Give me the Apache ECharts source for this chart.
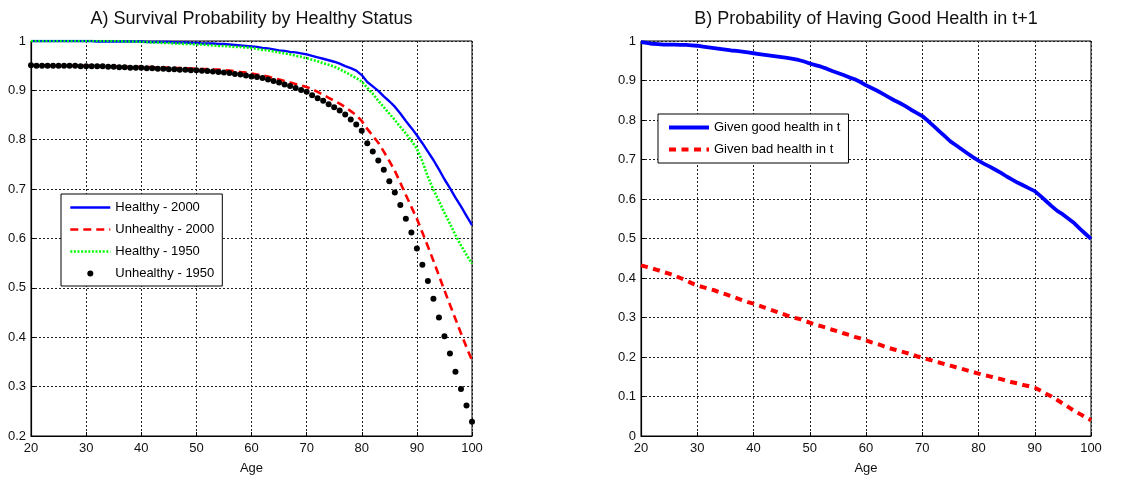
<!DOCTYPE html>
<html>
<head>
<meta charset="utf-8">
<script src="https://cdn.jsdelivr.net/npm/echarts@6/dist/echarts.min.js"></script>
<style>
  html, body { margin: 0; padding: 0; background: #fff; }
  #chart { width: 1138px; height: 480px; }
</style>
</head>
<body>
<div id="chart"></div>
<script>
// Ages 20..100, one value per year
const ages = [];
for (let a = 20; a <= 100; a++) ages.push(a);

// Panel A: survival probability by health status
const healthy2000 = [
  1.000, 1.000, 1.000, 1.000, 1.000, 1.000, 1.000, 1.000, 1.000, 1.000,
  1.000, 1.000, 0.999, 0.999, 0.999, 0.999, 0.999, 0.999, 0.999, 0.999,
  0.999, 0.998, 0.998, 0.998, 0.998, 0.998, 0.997, 0.997, 0.997, 0.996,
  0.996, 0.995, 0.995, 0.995, 0.994, 0.994, 0.993, 0.992, 0.991, 0.990,
  0.989, 0.988, 0.986, 0.985, 0.983, 0.981, 0.980, 0.978, 0.977, 0.975,
  0.973, 0.970, 0.967, 0.964, 0.961, 0.958, 0.954, 0.949, 0.945, 0.940,
  0.931, 0.917, 0.908, 0.899, 0.888, 0.878, 0.867, 0.853, 0.838, 0.824,
  0.809, 0.793, 0.776, 0.759, 0.740, 0.720, 0.702, 0.683, 0.665, 0.646,
  0.627
];
const unhealthy2000 = [
  0.951, 0.951, 0.951, 0.951, 0.951, 0.950, 0.950, 0.950, 0.950, 0.950,
  0.950, 0.950, 0.950, 0.949, 0.949, 0.949, 0.949, 0.948, 0.948, 0.948,
  0.948, 0.947, 0.947, 0.946, 0.946, 0.946, 0.945, 0.945, 0.945, 0.944,
  0.944, 0.943, 0.943, 0.942, 0.942, 0.941, 0.940, 0.939, 0.937, 0.936,
  0.934, 0.932, 0.930, 0.928, 0.925, 0.922, 0.919, 0.916, 0.913, 0.910,
  0.907, 0.902, 0.897, 0.891, 0.885, 0.879, 0.873, 0.866, 0.858, 0.850,
  0.838, 0.822, 0.808, 0.794, 0.776, 0.757, 0.737, 0.713, 0.688, 0.664,
  0.640, 0.612, 0.584, 0.555, 0.525, 0.495, 0.466, 0.437, 0.408, 0.380,
  0.353
];
const healthy1950 = [
  1.000, 1.000, 1.000, 1.000, 1.000, 1.000, 1.000, 1.000, 1.000, 1.000,
  1.000, 1.000, 1.000, 1.000, 1.000, 1.000, 1.000, 0.999, 0.999, 0.999,
  0.998, 0.998, 0.997, 0.997, 0.996, 0.996, 0.995, 0.995, 0.994, 0.994,
  0.993, 0.993, 0.992, 0.991, 0.990, 0.990, 0.989, 0.988, 0.988, 0.987,
  0.986, 0.984, 0.982, 0.981, 0.979, 0.977, 0.975, 0.973, 0.970, 0.968,
  0.965, 0.962, 0.959, 0.955, 0.952, 0.948, 0.943, 0.937, 0.931, 0.925,
  0.918, 0.905, 0.893, 0.879, 0.866, 0.853, 0.840, 0.826, 0.813, 0.798,
  0.782, 0.756, 0.725, 0.699, 0.676, 0.652, 0.630, 0.607, 0.586, 0.567,
  0.549
];
const unhealthy1950 = [
  0.951, 0.950, 0.950, 0.950, 0.950, 0.950, 0.950, 0.950, 0.950, 0.949,
  0.949, 0.949, 0.949, 0.949, 0.948, 0.948, 0.947, 0.947, 0.946, 0.946,
  0.946, 0.945, 0.945, 0.944, 0.944, 0.943, 0.943, 0.942, 0.942, 0.941,
  0.941, 0.940, 0.939, 0.938, 0.937, 0.936, 0.935, 0.933, 0.932, 0.930,
  0.928, 0.927, 0.925, 0.922, 0.919, 0.916, 0.912, 0.909, 0.905, 0.901,
  0.897, 0.890, 0.884, 0.879, 0.872, 0.866, 0.859, 0.851, 0.841, 0.831,
  0.818, 0.793, 0.776, 0.758, 0.739, 0.716, 0.693, 0.668, 0.640, 0.612,
  0.580, 0.547, 0.514, 0.478, 0.440, 0.402, 0.367, 0.330, 0.295, 0.262,
  0.229
];

// Panel B: probability of good health next period
const givenGood = [
  0.997, 0.995, 0.993, 0.992, 0.991, 0.991, 0.991, 0.990, 0.990, 0.989,
  0.988, 0.986, 0.984, 0.982, 0.980, 0.978, 0.976, 0.975, 0.973, 0.971,
  0.969, 0.967, 0.965, 0.963, 0.961, 0.959, 0.957, 0.955, 0.952, 0.948,
  0.943, 0.939, 0.935, 0.930, 0.924, 0.919, 0.914, 0.908, 0.903, 0.896,
  0.888, 0.881, 0.874, 0.866, 0.858, 0.850, 0.843, 0.835, 0.826, 0.818,
  0.810, 0.798, 0.785, 0.772, 0.759, 0.746, 0.736, 0.726, 0.716, 0.706,
  0.697, 0.689, 0.682, 0.674, 0.666, 0.657, 0.649, 0.641, 0.634, 0.627,
  0.620, 0.608, 0.595, 0.582, 0.570, 0.561, 0.550, 0.539, 0.525, 0.512,
  0.499
];
const givenBad = [
  0.432, 0.428, 0.424, 0.420, 0.415, 0.411, 0.406, 0.400, 0.394, 0.387,
  0.381, 0.377, 0.373, 0.369, 0.364, 0.359, 0.354, 0.349, 0.344, 0.339,
  0.335, 0.330, 0.325, 0.320, 0.315, 0.310, 0.305, 0.300, 0.297, 0.292,
  0.287, 0.282, 0.278, 0.274, 0.269, 0.265, 0.260, 0.256, 0.251, 0.247,
  0.242, 0.237, 0.233, 0.228, 0.223, 0.219, 0.215, 0.211, 0.207, 0.202,
  0.198, 0.194, 0.190, 0.186, 0.182, 0.178, 0.174, 0.170, 0.166, 0.162,
  0.158, 0.154, 0.151, 0.147, 0.144, 0.140, 0.136, 0.133, 0.129, 0.126,
  0.122, 0.115, 0.107, 0.100, 0.091, 0.082, 0.073, 0.064, 0.056, 0.048,
  0.040
];

const titles = [
  'A) Survival Probability by Healthy Status',
  'B) Probability of Having Good Health in t+1'
];
const namesA = ['Healthy - 2000', 'Unhealthy - 2000', 'Healthy - 1950', 'Unhealthy - 1950'];
const namesB = ['Given good health in t', 'Given bad health in t'];

const FONT = "'Liberation Sans', Arial, sans-serif";
const pairs = vals => ages.map((a, i) => [a, vals[i]]);
// legend entry for a plain line: hide the marker drawn in the middle of the sample
const lineEntry = name => ({ name: name, itemStyle: { opacity: 0 } });

function xAxisFor(gi) {
  return {
    type: 'value', gridIndex: gi, min: 20, max: 100, interval: 10,
    name: 'Age', nameLocation: 'middle', nameGap: 26,
    nameTextStyle: { fontFamily: FONT, fontSize: 13, color: '#111' },
    axisLine: { lineStyle: { color: '#000', width: 1.2 } },
    axisTick: { inside: true, length: 4, lineStyle: { color: '#000' } },
    axisLabel: { fontFamily: FONT, fontSize: 13, color: '#111', margin: 6 },
    splitLine: { show: true, lineStyle: { color: '#222', width: 1, type: [2, 2] } }
  };
}
function yAxisFor(gi, min) {
  return {
    type: 'value', gridIndex: gi, min: min, max: 1, interval: 0.1,
    axisLine: { show: true, lineStyle: { color: '#000', width: 1.2 } },
    axisTick: { show: true, inside: true, length: 4, lineStyle: { color: '#000' } },
    axisLabel: { fontFamily: FONT, fontSize: 13, color: '#111', margin: 5 },
    splitLine: { show: true, lineStyle: { color: '#222', width: 1, type: [2, 2] } }
  };
}
function lineSeries(name, vals, gi, color, width, type) {
  return {
    name: name, type: 'line', xAxisIndex: gi, yAxisIndex: gi,
    data: pairs(vals), symbol: 'none', smooth: false,
    lineStyle: { color: color, width: width, type: type },
    itemStyle: { color: color }
  };
}

const legendBase = {
  orient: 'vertical', backgroundColor: '#fff', borderColor: '#000', borderWidth: 1,
  itemWidth: 40, itemHeight: 6, itemGap: 9,
  lineStyle: { width: 'inherit', type: 'inherit' },
  textStyle: { fontFamily: FONT, fontSize: 13, color: '#000' },
  selectedMode: false
};

const chart = echarts.init(document.getElementById('chart'), null, { renderer: 'canvas' });
chart.setOption({
  animation: false,
  backgroundColor: '#fff',
  title: [
    { text: titles[0], left: 251.5, top: 10, textAlign: 'center', padding: 0,
      textStyle: { fontFamily: FONT, fontSize: 18, fontWeight: 'normal', color: '#111' } },
    { text: titles[1], left: 866, top: 10, textAlign: 'center', padding: 0,
      textStyle: { fontFamily: FONT, fontSize: 18, fontWeight: 'normal', color: '#111' } }
  ],
  grid: [
    { left: 31, top: 41, width: 441, height: 399, show: true, borderColor: '#000', borderWidth: 1, backgroundColor: '#fff' },
    { left: 641, top: 41, width: 450, height: 399, show: true, borderColor: '#000', borderWidth: 1, backgroundColor: '#fff' }
  ],
  xAxis: [xAxisFor(0), xAxisFor(1)],
  yAxis: [yAxisFor(0, 0.2), yAxisFor(1, 0)],
  legend: [
    Object.assign({}, legendBase, {
      left: 61, top: 194, padding: [7, 8, 6, 8],
      data: [lineEntry(namesA[0]), lineEntry(namesA[1]), lineEntry(namesA[2]), { name: namesA[3] }]
    }),
    Object.assign({}, legendBase, {
      left: 658, top: 114, padding: [7, 8, 7, 9],
      data: [lineEntry(namesB[0]), lineEntry(namesB[1])]
    })
  ],
  series: [
    lineSeries(namesA[0], healthy2000, 0, '#0000ff', 2.4, 'solid'),
    lineSeries(namesA[1], unhealthy2000, 0, '#ff0000', 2.6, [8, 5]),
    lineSeries(namesA[2], healthy1950, 0, '#00ff00', 2.6, [2, 1.6]),
    {
      name: namesA[3], type: 'scatter', xAxisIndex: 0, yAxisIndex: 0,
      data: pairs(unhealthy1950), symbol: 'circle', symbolSize: 6,
      itemStyle: { color: '#000', opacity: 1 }, z: 5
    },
    lineSeries(namesB[0], givenGood, 1, '#0000ff', 3.8, 'solid'),
    lineSeries(namesB[1], givenBad, 1, '#ff0000', 4, [7, 5.5])
  ]
});
</script>
</body>
</html>
